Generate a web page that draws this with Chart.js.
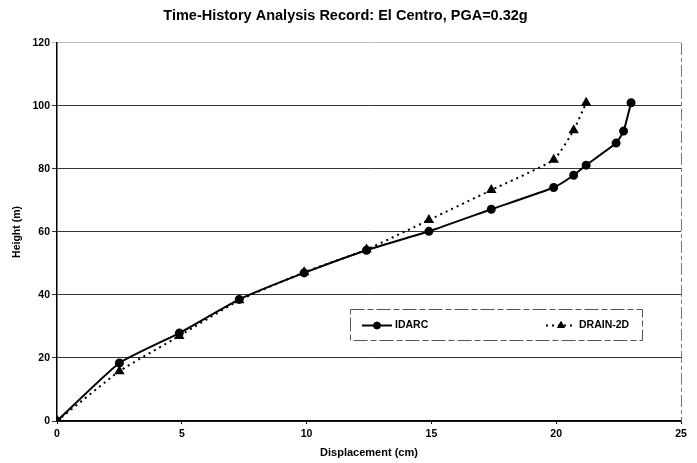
<!DOCTYPE html>
<html>
<head>
<meta charset="utf-8">
<script src="https://cdn.jsdelivr.net/npm/chart.js@4.4.0/dist/chart.umd.min.js"></script>
<style>
  html, body { margin: 0; padding: 0; background: #fff; }
  #wrap { width: 697px; height: 463px; }
</style>
</head>
<body>
<div id="wrap"><canvas id="drift_chart" width="697" height="463"></canvas></div>
<script>
// values
const chartTitle = 'Time-History Analysis Record: El Centro, PGA=0.32g';
const xTitle = 'Displacement (cm)';
const yTitle = 'Height (m)';

const idarcDisp = [0, 2.5, 4.9, 7.3, 9.9, 12.4, 14.9, 17.4, 19.9, 20.7, 21.2, 22.4, 22.7, 23.0];
const idarcHeight = [0, 18.4, 27.9, 38.6, 47.0, 54.2, 60.2, 67.2, 74.1, 78.0, 81.2, 88.2, 92.0, 101.0];

const drainDisp = [0, 2.5, 4.9, 7.3, 9.9, 12.4, 14.9, 17.4, 19.9, 20.7, 21.2];
const drainHeight = [0, 15.8, 27.0, 38.3, 47.2, 54.4, 63.8, 73.3, 82.9, 92.3, 101.0];

const xTicks = [0, 5, 10, 15, 20, 25];
const yTicks = [0, 20, 40, 60, 80, 100, 120];

const fontFam = '"Liberation Sans", Arial, sans-serif';

function toPoints(xs, ys) {
    return xs.map((x, i) => ({ x: x, y: ys[i] }));
}

// legend box sitting inside the plot, like the Excel original
const insideLegend = {
    id: 'insideLegend',
    afterDraw(chart) {
        const ctx = chart.ctx;
        const area = chart.chartArea;
        ctx.save();

        // right frame edge
        ctx.strokeStyle = '#777';
        ctx.lineWidth = 1;
        ctx.setLineDash([12, 3, 4, 3]);
        ctx.beginPath();
        ctx.moveTo(area.right + 0.5, area.top);
        ctx.lineTo(area.right + 0.5, area.bottom);
        ctx.stroke();

        // box
        const bx = 350, by = 309, bw = 292, bh = 31;
        ctx.fillStyle = '#fff';
        ctx.fillRect(bx, by, bw, bh);
        ctx.strokeStyle = '#555';
        ctx.setLineDash([14, 3, 6, 3]);
        ctx.strokeRect(bx + 0.5, by + 0.5, bw, bh);

        const cy = by + bh / 2 + 1;
        const slots = [{ x0: 362, x1: 392 }, { x0: 546, x1: 576 }];
        chart.data.datasets.forEach((ds, i) => {
            const s = slots[i];
            ctx.strokeStyle = ds.borderColor;
            ctx.lineWidth = ds.borderWidth;
            ctx.setLineDash(ds.borderDash || []);
            ctx.beginPath();
            ctx.moveTo(s.x0, cy);
            ctx.lineTo(s.x1, cy);
            ctx.stroke();
            ctx.setLineDash([]);
            ctx.fillStyle = ds.backgroundColor;
            ctx.lineWidth = 1;
            Chart.helpers.drawPoint(ctx, {
                pointStyle: ds.pointStyle,
                radius: ds.pointRadius,
                borderWidth: 1
            }, (s.x0 + s.x1) / 2, cy);
            ctx.fillStyle = '#000';
            ctx.font = 'bold 10.5px ' + fontFam;
            ctx.textBaseline = 'middle';
            ctx.textAlign = 'left';
            ctx.fillText(ds.label, s.x1 + 3, cy);
        });
        ctx.restore();
    }
};

let canvas = document.querySelector('#drift_chart');

let chartData = {
    datasets: [{
        label: 'IDARC',
        data: toPoints(idarcDisp, idarcHeight),
        showLine: true,
        borderColor: '#000',
        backgroundColor: '#000',
        borderWidth: 2,
        pointStyle: 'circle',
        pointRadius: 3.5,
        tension: 0.15
    }, {
        label: 'DRAIN-2D',
        data: toPoints(drainDisp, drainHeight),
        showLine: true,
        borderColor: '#000',
        backgroundColor: '#000',
        borderWidth: 2,
        borderDash: [2, 4],
        pointStyle: 'triangle',
        pointRadius: 4,
        tension: 0.15
    }]
};

let chartOptions = {
    responsive: false,
    animation: false,
    layout: {
        padding: { left: 10, right: 16, top: 5, bottom: 3 }
    },
    scales: {
        x: {
            type: 'linear',
            min: 0,
            max: 25,
            afterBuildTicks: (scale) => {
                scale.ticks = xTicks.map(v => ({ value: v }));
            },
            afterFit: (scale) => {
                scale.height = 39;
            },
            grid: {
                drawOnChartArea: false,
                drawTicks: true,
                tickLength: 3,
                color: '#000'
            },
            border: { color: '#000', width: 1.5 },
            ticks: {
                color: '#000',
                padding: 4,
                maxRotation: 0,
                font: { family: fontFam, size: 10.5, weight: 'bold' }
            },
            title: {
                display: true,
                text: xTitle,
                color: '#000',
                padding: { top: 4, bottom: 0 },
                font: { family: fontFam, size: 11, weight: 'bold' }
            }
        },
        y: {
            type: 'linear',
            min: 0,
            max: 120,
            afterBuildTicks: (scale) => {
                scale.ticks = yTicks.map(v => ({ value: v }));
            },
            afterFit: (scale) => {
                scale.width = 47;
            },
            grid: {
                color: (c) => c.tick && c.tick.value === 120 ? '#bbb' : '#333',
                lineWidth: 1,
                tickLength: 5
            },
            border: { color: '#000', width: 1.5 },
            ticks: {
                color: '#000',
                padding: 2,
                font: { family: fontFam, size: 10.5, weight: 'bold' }
            },
            title: {
                display: true,
                text: yTitle,
                color: '#000',
                padding: { top: 1, bottom: 0 },
                font: { family: fontFam, size: 10.5, weight: 'bold' }
            }
        }
    },
    plugins: {
        legend: { display: false },
        tooltip: { enabled: false },
        title: {
            display: true,
            text: chartTitle,
            color: '#000',
            padding: { top: 2, bottom: 18.5 },
            font: { family: fontFam, size: 14.5, weight: 'bold' }
        }
    }
};

let chart = new Chart(canvas, {
    type: 'scatter',
    data: chartData,
    options: chartOptions,
    plugins: [insideLegend]
});
</script>
</body>
</html>
